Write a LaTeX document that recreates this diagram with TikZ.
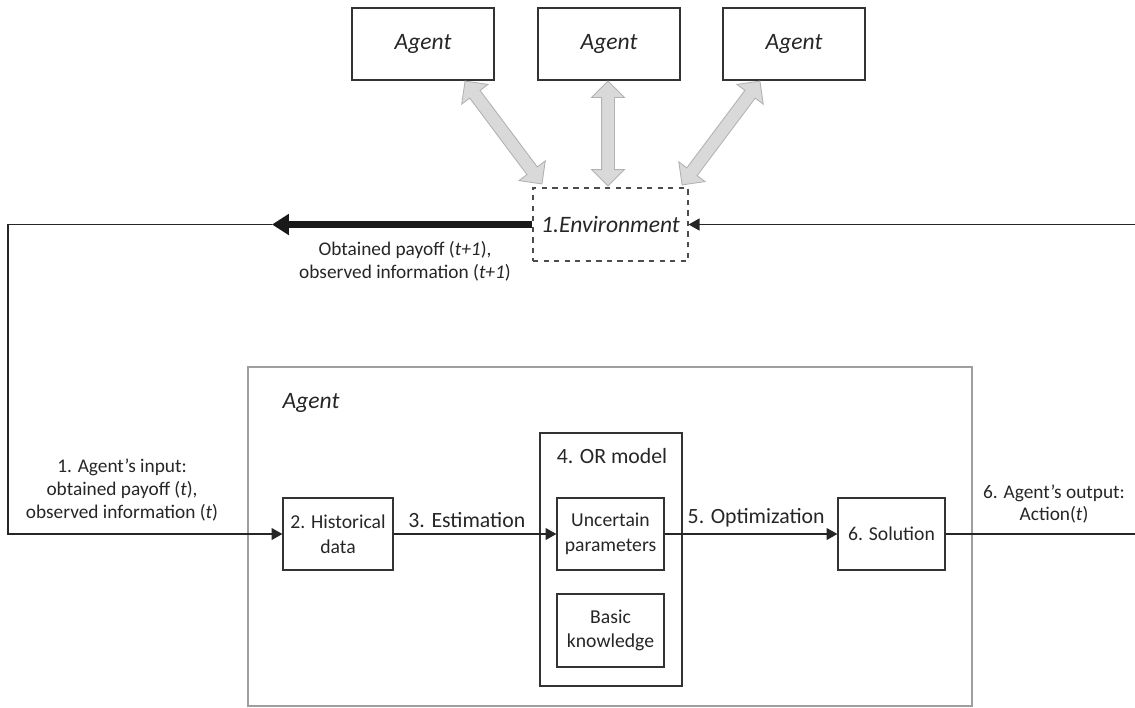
\documentclass[tikz,border=0pt]{standalone}
\usepackage{fontspec}
\setmainfont{Carlito}
\usepackage{tikz}
\usetikzlibrary{calc, arrows.meta, shapes.arrows}

\tikzset{
	box/.style={draw=black!80, line width=0.7pt, inner sep=0pt, align=center, text=black!85, font=\fontsize{11.2}{14}\selectfont},
	flow/.style={draw=black!85, line width=0.8pt, -{Triangle[length=6.2pt,width=6.8pt]}},
	lbl/.style={align=center, text=black!85, font=\fontsize{11}{13}\selectfont},
	steplbl/.style={text=black!85, font=\fontsize{12.4}{14}\selectfont},
	biglbl/.style={text=black!85, font=\fontsize{13.4}{16}\selectfont\itshape},
	link/.style={double arrow, draw=gray!60, fill=gray!30, line width=0.5pt, inner xsep=0pt, inner ysep=0.12cm, double arrow head extend=0.2cm},
}

\begin{document}
\begin{tikzpicture}[x=0.02cm, y=-0.02cm]
	\useasboundingbox (0,0) rectangle (1135,707);
	
	%agents on top
	\node[box, biglbl, minimum width=2.84cm, minimum height=1.44cm] (agent one) at (423,44) {Agent};
	\node[box, biglbl, minimum width=2.84cm, minimum height=1.44cm] (agent two) at (609,44) {Agent};
	\node[box, biglbl, minimum width=2.84cm, minimum height=1.44cm] (agent three) at (794,44) {Agent};
	
	%environment
	\node[box, biglbl, draw=black!70, dashed, minimum width=3.1cm, minimum height=1.46cm] (env) at (610.5,224.5) {1.Environment};
	
	%ends of the gray links
	\coordinate (g1a) at (465,81);
	\coordinate (g1b) at (542,184);
	\coordinate (g2a) at (608,81);
	\coordinate (g2b) at (608,186);
	\coordinate (g3a) at (760,81);
	\coordinate (g3b) at (682,185);
	
	\path let \p1=($(g1b)-(g1a)$), \n1={veclen(\x1,\y1)} in (g1a) -- (g1b) node[link, midway, sloped, minimum height=\n1] (link one) {};
	\path let \p1=($(g2b)-(g2a)$), \n1={veclen(\x1,\y1)} in (g2a) -- (g2b) node[link, midway, sloped, minimum height=\n1] (link two) {};
	\path let \p1=($(g3b)-(g3a)$), \n1={veclen(\x1,\y1)} in (g3a) -- (g3b) node[link, midway, sloped, minimum height=\n1] (link three) {};
	
	%the agent itself
	\node[draw=gray!75, line width=0.8pt, minimum width=14.48cm, minimum height=6.78cm] (agent box) at (610,536.5) {};
	\node[biglbl] (agent title) at (311,403) {Agent};
	
	\node[box, minimum width=2.2cm, minimum height=1.44cm] (hist) at (338,534) {2. Historical\\data};
	\node[box, minimum width=2.84cm, minimum height=5.06cm] (or model) at (611,559.5) {};
	\node[steplbl] (or title) at (612,456) {4. OR model};
	\node[box, minimum width=2.14cm, minimum height=1.44cm] (unc) at (610.5,534) {Uncertain\\parameters};
	\node[box, minimum width=2.14cm, minimum height=1.46cm] (know) at (610.5,630.5) {Basic\\knowledge};
	\node[box, minimum width=2.14cm, minimum height=1.44cm] (sol) at (891.5,534) {6. Solution};
	
	%corners of the loop
	\coordinate (fbtip) at (272,224.5);
	\coordinate (corner tl) at (8,224.5);
	\coordinate (corner bl) at (8,534);
	\coordinate (corner br) at (1137,534);
	\coordinate (corner tr) at (1137,224.5);
	
	%feedback from the environment
	\draw[line width=4pt, black!90, -{Triangle[length=9.6pt,width=11.5pt]}] (env.west) -- (fbtip);
	\node[lbl] (payoff next) at (405,261) {Obtained payoff (\textit{t+1}),\\observed information (\textit{t+1})};
	\draw[flow] (fbtip) -- (corner tl) -- (corner bl) -- (hist.west);
	\node[lbl] (input) at (122,490) {1. Agent’s input:\\obtained payoff (\textit{t}),\\observed information (\textit{t})};
	
	%inside the agent
	\draw[flow] (hist.east) -- node[steplbl, above, pos=0.45] {3. Estimation} (unc.west);
	\draw[flow] (unc.east) -- node[steplbl, above, pos=0.53] {5. Optimization} (sol.west);
	
	%action back to the environment
	\draw[flow] (sol.east) -- (corner br) -- (corner tr) -- (env.east);
	\node[lbl] (output) at (1054,504) {6. Agent’s output:\\Action(\textit{t})};
\end{tikzpicture}
\end{document}
